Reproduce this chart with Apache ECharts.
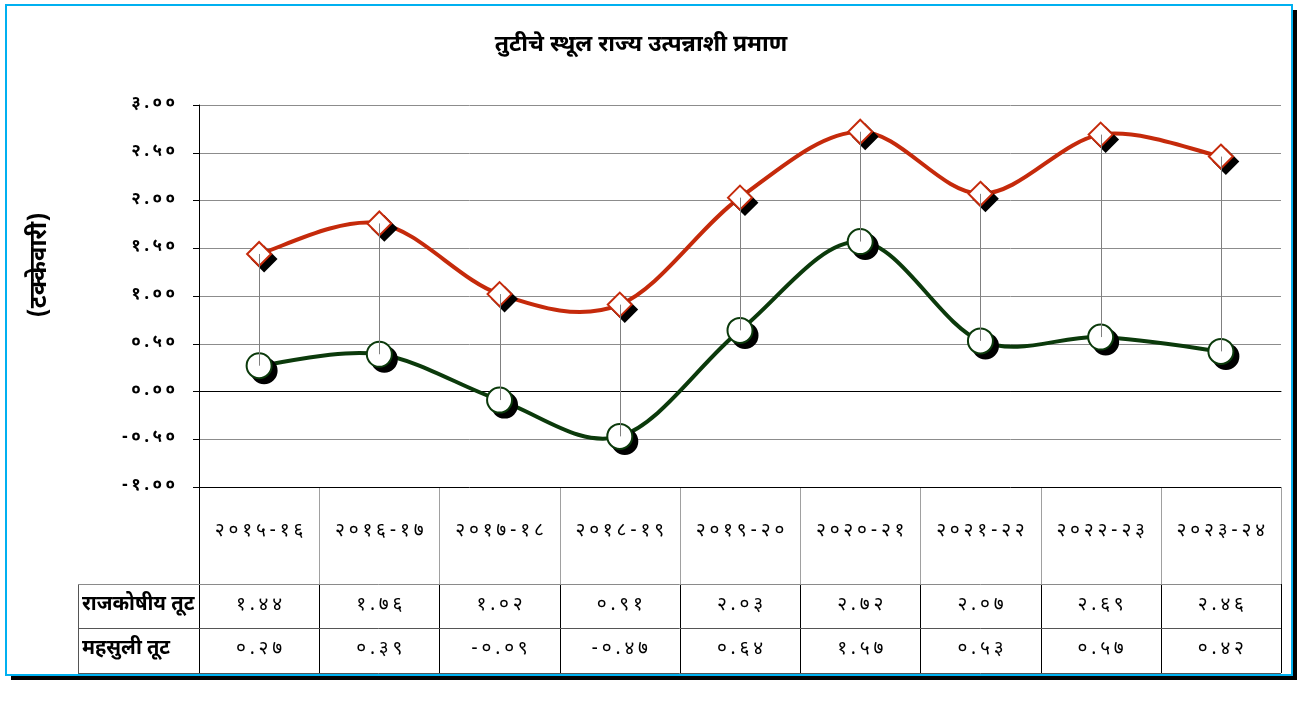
<!DOCTYPE html>
<html>
<head>
<meta charset="utf-8">
<title>तुटीचे स्थूल राज्य उत्पन्नाशी प्रमाण</title>
<script src="https://cdn.jsdelivr.net/npm/echarts@6/dist/echarts.min.js"></script>
<style>
  html, body { margin: 0; padding: 0; background: #fff; }
  #main { width: 1309px; height: 704px; }
</style>
</head>
<body>
<div id="main"></div>
<script>
// वर्षे
var years = ['२०१५-१६', '२०१६-१७', '२०१७-१८', '२०१८-१९', '२०१९-२०', '२०२०-२१', '२०२१-२२', '२०२२-२३', '२०२३-२४']
// राजकोषीय तूट (%)
var fiscalDeficit = [1.44, 1.76, 1.02, 0.91, 2.03, 2.72, 2.07, 2.69, 2.46]
// महसुली तूट (%)
var revenueDeficit = [0.27, 0.39, -0.09, -0.47, 0.64, 1.57, 0.53, 0.57, 0.42]
var seriesNames = ['राजकोषीय तूट', 'महसुली तूट']
var yTicks = { min: -1, max: 3, step: 0.5 }

var DIGITS = '०१२३४५६७८९'
function toDev (s) {
  return String(s).replace(/[0-9]/g, function (d) { return DIGITS[+d] })
}
function spaced (s) {
  return s.split('').join('\u2009')
}

var FONT = "'Noto Sans Devanagari', 'Noto Sans', sans-serif"
var gridLeft = 199
var gridTop = 105
var gridWidth = 1082
var gridHeight = 382
var gridBottom = gridTop + gridHeight
var colW = gridWidth / years.length
var headerBottom = 584
var row1Bottom = 628
var row2Bottom = 673
var tableLeft = 78

var RED = '#c52a0b'
var GREEN = '#0b3a0b'

var chart = echarts.init(document.getElementById('main'))

// तक्त्याच्या रेषा
var tableLines = []
function hline (x1, x2, y, color) {
  tableLines.push({ type: 'line', shape: { x1: x1, y1: y, x2: x2, y2: y }, style: { stroke: color, lineWidth: 1 } })
}
function vline (x, y1, y2, color) {
  tableLines.push({ type: 'line', shape: { x1: x, y1: y1, x2: x, y2: y2 }, style: { stroke: color, lineWidth: 1 } })
}
for (var i = 1; i <= years.length; i++) {
  var x = Math.round(gridLeft + colW * i) + 0.5
  vline(x, gridBottom, headerBottom, '#a0a0a0')
  vline(x, headerBottom, row2Bottom, '#000')
}
vline(gridLeft + 0.5, gridBottom, row2Bottom, '#000')
vline(tableLeft + 0.5, headerBottom, row2Bottom, '#555')
hline(tableLeft, gridLeft + gridWidth, headerBottom + 0.5, '#8a8a8a')
hline(tableLeft, gridLeft + gridWidth, row1Bottom + 0.5, '#555')
hline(tableLeft, gridLeft + gridWidth, row2Bottom + 0.5, '#555')

// excel सारखी गुळगुळीत रेषा (catmull-rom)
function curveSeries (values, color) {
  return {
    type: 'custom',
    data: values.map(function (v, i) { return [i, v] }),
    encode: { x: 0, y: 1 },
    z: 2,
    silent: true,
    renderItem: function (params, api) {
      var i = params.dataIndex
      var n = values.length
      if (i >= n - 1) return null
      var p0 = api.coord([Math.max(i - 1, 0), values[Math.max(i - 1, 0)]])
      var p1 = api.coord([i, values[i]])
      var p2 = api.coord([i + 1, values[i + 1]])
      var p3 = api.coord([Math.min(i + 2, n - 1), values[Math.min(i + 2, n - 1)]])
      return {
        type: 'bezierCurve',
        shape: {
          x1: p1[0], y1: p1[1],
          x2: p2[0], y2: p2[1],
          cpx1: p1[0] + (p2[0] - p0[0]) / 6,
          cpy1: p1[1] + (p2[1] - p0[1]) / 6,
          cpx2: p2[0] - (p3[0] - p1[0]) / 6,
          cpy2: p2[1] - (p3[1] - p1[1]) / 6
        },
        style: { stroke: color, lineWidth: 4, fill: null, lineCap: 'round' }
      }
    }
  }
}

function markerSeries (values, symbol, size, color, shadow) {
  return {
    type: 'line',
    data: values,
    symbol: symbol,
    symbolSize: size,
    symbolOffset: shadow ? [5, 5] : [0, 0],
    showAllSymbol: true,
    silent: true,
    lineStyle: { opacity: 0 },
    itemStyle: shadow
      ? { color: '#000', borderColor: '#000', borderWidth: 2 }
      : { color: '#fff', borderColor: color, borderWidth: 2 },
    z: shadow ? 3 : 4
  }
}

function tableLabel (margin) {
  return {
    interval: 0,
    margin: margin,
    verticalAlign: 'middle',
    fontFamily: FONT,
    fontSize: 19,
    color: '#000',
    formatter: function (v) { return spaced(toDev((+v).toFixed(2))) }
  }
}

var option = {
  backgroundColor: '#fff',
  animation: false,
  title: {
    text: 'तुटीचे स्थूल राज्य उत्पन्नाशी प्रमाण',
    left: 636,
    textAlign: 'center',
    top: 30,
    textStyle: { fontFamily: FONT, fontSize: 23, fontWeight: 'bold', color: '#000' }
  },
  grid: { left: gridLeft, top: gridTop, width: gridWidth, height: gridHeight },
  xAxis: [
    {
      type: 'category',
      data: years,
      boundaryGap: true,
      axisLine: { show: true, lineStyle: { color: '#000', width: 1 } },
      axisTick: { show: false },
      axisLabel: {
        interval: 0,
        margin: 45,
        verticalAlign: 'middle',
        fontFamily: FONT,
        fontSize: 19,
        color: '#000',
        formatter: function (v) { return spaced(v) }
      }
    },
    {
      type: 'category',
      data: fiscalDeficit,
      position: 'bottom',
      axisLine: { show: false },
      axisTick: { show: false },
      axisLabel: tableLabel(headerBottom + 22 - gridBottom)
    },
    {
      type: 'category',
      data: revenueDeficit,
      position: 'bottom',
      axisLine: { show: false },
      axisTick: { show: false },
      axisLabel: tableLabel(row1Bottom + 22 - gridBottom)
    }
  ],
  yAxis: {
    type: 'value',
    min: yTicks.min,
    max: yTicks.max,
    interval: yTicks.step,
    axisLine: { show: true, lineStyle: { color: '#000' } },
    axisTick: { show: true, length: 6, lineStyle: { color: '#000' } },
    axisLabel: {
      margin: 24,
      fontFamily: FONT,
      fontSize: 17,
      fontWeight: 'bold',
      color: '#000',
      formatter: function (v) { return spaced(toDev(v.toFixed(2))) }
    },
    splitLine: {
      show: true,
      lineStyle: {
        color: ['#000', '#8c8c8c', '#000', '#8c8c8c', '#8c8c8c', '#8c8c8c', '#8c8c8c', '#8c8c8c', '#8c8c8c'],
        width: 1
      }
    }
  },
  graphic: [
    {
      type: 'rect',
      z: -11,
      shape: { x: 11, y: 10, width: 1286, height: 670 },
      style: { fill: '#000' }
    },
    {
      type: 'rect',
      z: -10,
      shape: { x: 6, y: 5, width: 1286, height: 670 },
      style: { fill: '#fff', stroke: '#00b0f0', lineWidth: 2 }
    },
    {
      type: 'text',
      x: 42,
      y: 265,
      rotation: Math.PI / 2,
      style: { text: '(टक्केवारी)', font: 'bold 24px ' + FONT, fill: '#000', align: 'center', verticalAlign: 'middle' }
    },
    {
      type: 'text',
      x: 82,
      y: headerBottom + 22,
      style: { text: seriesNames[0], font: 'bold 20px ' + FONT, fill: '#000', verticalAlign: 'middle' }
    },
    {
      type: 'text',
      x: 82,
      y: row1Bottom + 22,
      style: { text: seriesNames[1], font: 'bold 20px ' + FONT, fill: '#000', verticalAlign: 'middle' }
    }
  ].concat(tableLines),
  series: [
    curveSeries(fiscalDeficit, RED),
    curveSeries(revenueDeficit, GREEN),
    markerSeries(fiscalDeficit, 'diamond', 24, RED, true),
    markerSeries(revenueDeficit, 'circle', 25, GREEN, true),
    markerSeries(fiscalDeficit, 'diamond', 24, RED, false),
    markerSeries(revenueDeficit, 'circle', 25, GREEN, false),
    {
      // उच्च-निम्न रेषा
      type: 'custom',
      data: years.map(function (y, i) { return [i, fiscalDeficit[i], revenueDeficit[i]] }),
      encode: { x: 0, y: [1, 2] },
      z: 5,
      silent: true,
      renderItem: function (params, api) {
        var p1 = api.coord([api.value(0), api.value(1)])
        var p2 = api.coord([api.value(0), api.value(2)])
        var x = Math.round(p1[0]) + 0.5
        return {
          type: 'line',
          shape: { x1: x, y1: p1[1], x2: x, y2: p2[1] },
          style: { stroke: '#808080', lineWidth: 1 }
        }
      }
    }
  ]
}

chart.setOption(option)
window.addEventListener('resize', function () {
  chart.resize()
})
</script>
</body>
</html>
